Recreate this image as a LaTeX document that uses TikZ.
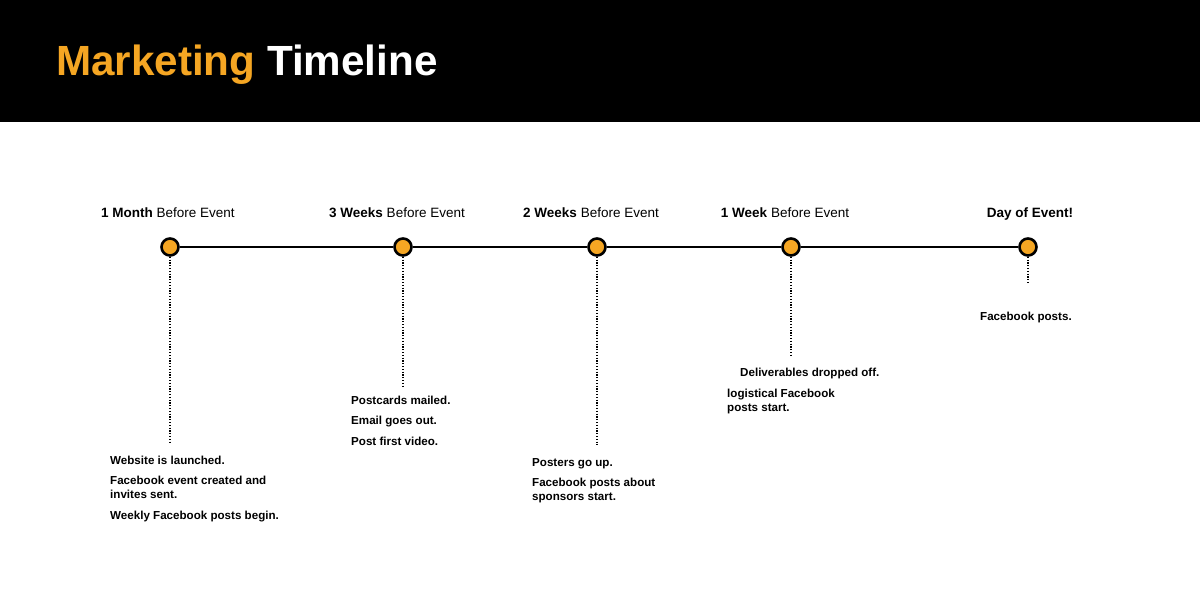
\documentclass[tikz,border=0pt]{standalone}
\usepackage{fontspec}
\setmainfont{Liberation Sans}
\definecolor{org}{HTML}{F5A623}
\begin{document}
\begin{tikzpicture}[x=1pt,y=-1pt,
  dot/.style={circle,draw=black,line width=2.6pt,fill=org,minimum size=17pt,inner sep=0pt},
  hdr/.style={anchor=base,font=\fontsize{13.5}{15}\selectfont,inner sep=0pt},
  txt/.style={anchor=base west,font=\fontsize{11.6}{14}\selectfont\bfseries,inner sep=0pt,align=left},
  drop/.style={line width=1.2pt,dash pattern=on 1.2pt off 1.6pt}]
\useasboundingbox (0,0) rectangle (1200,600);
\fill[black] (0,0) rectangle (1200,122);
\node[anchor=base west,inner sep=0pt,font=\fontsize{42.2}{48}\selectfont\bfseries] (title) at (56,75) {\textcolor{org}{Marketing} \textcolor{white}{Timeline}};
\coordinate (e1) at (170,443);
\coordinate (e2) at (403,388);
\coordinate (e3) at (597,445);
\coordinate (e4) at (791,357);
\coordinate (e5) at (1028,283);
\node[dot] (d1) at (170,247) {};
\node[dot] (d2) at (403,247) {};
\node[dot] (d3) at (597,247) {};
\node[dot] (d4) at (791,247) {};
\node[dot] (d5) at (1028,247) {};
\draw[line width=1.3pt] (d1) -- (d2) (d2) -- (d3) (d3) -- (d4) (d4) -- (d5);
\draw[drop] (d1) -- (e1);
\draw[drop] (d2) -- (e2);
\draw[drop] (d3) -- (e3);
\draw[drop] (d4) -- (e4);
\draw[drop] (d5) -- (e5);
\node[hdr] (h1) at (168,217) {\textbf{1 Month} Before Event};
\node[hdr] (h2) at (397,217) {\textbf{3 Weeks} Before Event};
\node[hdr] (h3) at (591,217) {\textbf{2 Weeks} Before Event};
\node[hdr] (h4) at (785,217) {\textbf{1 Week} Before Event};
\node[hdr] (h5) at (1030,217) {\textbf{Day of Event!}};
\node[txt] (t1a) at (110,464) {Website is launched.};
\node[txt] (t1b) at (110,498) {Facebook event created and\\invites sent.};
\node[txt] (t1c) at (110,519) {Weekly Facebook posts begin.};
\node[txt] (t2a) at (351,404) {Postcards mailed.};
\node[txt] (t2b) at (351,424) {Email goes out.};
\node[txt] (t2c) at (351,445) {Post first video.};
\node[txt] (t3a) at (532,466) {Posters go up.};
\node[txt] (t3b) at (532,500) {Facebook posts about\\sponsors start.};
\node[txt] (t4a) at (740,376) {Deliverables dropped off.};
\node[txt] (t4b) at (727,411) {logistical Facebook\\posts start.};
\node[txt] (t5a) at (980,320) {Facebook posts.};
\end{tikzpicture}
\end{document}
